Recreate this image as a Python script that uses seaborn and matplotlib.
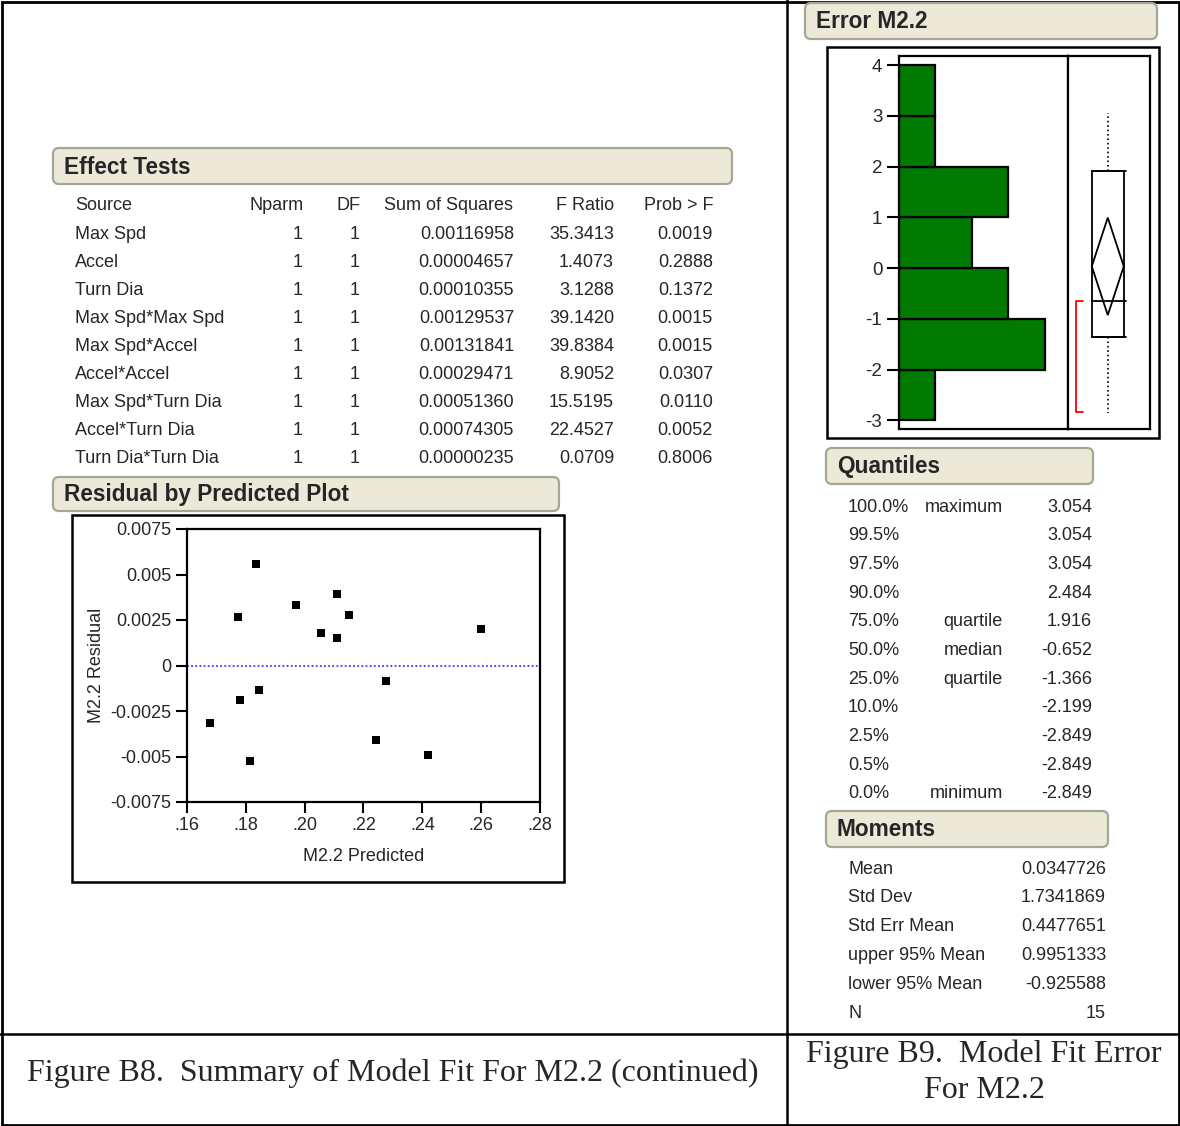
import numpy as np
import pandas as pd
import matplotlib
matplotlib.use('Agg')
from matplotlib import pyplot as plt
from matplotlib.patches import Rectangle, FancyBboxPatch, Polygon
import seaborn as sns

# ---- data ----
# Effect Tests table
sources = ['Max Spd', 'Accel', 'Turn Dia', 'Max Spd*Max Spd', 'Max Spd*Accel',
           'Accel*Accel', 'Max Spd*Turn Dia', 'Accel*Turn Dia', 'Turn Dia*Turn Dia']
nparm = [1, 1, 1, 1, 1, 1, 1, 1, 1]
dfs = [1, 1, 1, 1, 1, 1, 1, 1, 1]
sum_sq = ['0.00116958', '0.00004657', '0.00010355', '0.00129537', '0.00131841',
          '0.00029471', '0.00051360', '0.00074305', '0.00000235']
f_ratio = ['35.3413', '1.4073', '3.1288', '39.1420', '39.8384',
           '8.9052', '15.5195', '22.4527', '0.0709']
prob_f = ['0.0019', '0.2888', '0.1372', '0.0015', '0.0015',
          '0.0307', '0.0110', '0.0052', '0.8006']

# Residual by predicted
predicted = [0.1834, 0.1775, 0.1972, 0.2109, 0.2151, 0.2056, 0.2109, 0.2600,
             0.2277, 0.1846, 0.1780, 0.1679, 0.2241, 0.2420, 0.1815]
residual = [0.00557, 0.00266, 0.00334, 0.00392, 0.00275, 0.00178, 0.00150, 0.00200,
            -0.00083, -0.00132, -0.00189, -0.00314, -0.00411, -0.00490, -0.00526]

# Error M2.2 histogram (bin centres and counts)
bin_edges = [-3, -2, -1, 0, 1, 2, 3, 4]
bin_centers = [-2.5, -1.5, -0.5, 0.5, 1.5, 2.5, 3.5]
bin_counts = [1, 4, 3, 2, 3, 1, 1]

# Quantiles
q_pct = ['100.0%', '99.5%', '97.5%', '90.0%', '75.0%', '50.0%', '25.0%',
         '10.0%', '2.5%', '0.5%', '0.0%']
q_name = ['maximum', '', '', '', 'quartile', 'median', 'quartile', '', '', '', 'minimum']
q_val = [3.054, 3.054, 3.054, 2.484, 1.916, -0.652, -1.366, -2.199, -2.849, -2.849, -2.849]

# Moments
m_name = ['Mean', 'Std Dev', 'Std Err Mean', 'upper 95% Mean', 'lower 95% Mean', 'N']
m_val = ['0.0347726', '1.7341869', '0.4477651', '0.9951333', '-0.925588', '15']
mean_ci = [0.0347726, 0.9951333, -0.925588]
shortest_half = [-0.64, -2.84]

# ---- layout helpers (pixel coords) ----
W, H = 1180, 1126
sns.set_style('white')
plt.rcParams['font.family'] = ['Liberation Sans', 'DejaVu Sans']
plt.rcParams['axes.unicode_minus'] = False

fig = plt.figure(figsize=(W / 100, H / 100), dpi=100)


def px_rect(x0, y0, x1, y1):
    return [x0 / W, 1 - y1 / H, (x1 - x0) / W, (y1 - y0) / H]


bg = fig.add_axes([0, 0, 1, 1], zorder=0)
bg.set_xlim(0, W)
bg.set_ylim(H, 0)
bg.axis('off')

# page frame
bg.add_patch(Rectangle((1.5, 1.5), W - 3, H - 3, fill=False, lw=2, ec='black'))
bg.plot([787, 787], [0, H], color='black', lw=1.8)
bg.plot([0, W], [1034, 1034], color='black', lw=1.8)

FS = 13


def header(x0, y0, x1, y1, text):
    bg.add_patch(FancyBboxPatch((x0, y0), x1 - x0, y1 - y0,
                                boxstyle='round,pad=0,rounding_size=6',
                                fc='#ece9d8', ec='#a6a696', lw=1.6))
    bg.text(x0 + 11, (y0 + y1) / 2 + 1, text, fontsize=16.3, fontweight='bold',
            va='center', ha='left')


# Effect Tests
header(53, 148, 732, 184, 'Effect Tests')
row0, dy = 206, 28.1
bg.text(75, row0, 'Source', fontsize=FS, va='center')
bg.text(304, row0, 'Nparm', fontsize=FS, va='center', ha='right')
bg.text(361, row0, 'DF', fontsize=FS, va='center', ha='right')
bg.text(513, row0, 'Sum of Squares', fontsize=FS, va='center', ha='right')
bg.text(614, row0, 'F Ratio', fontsize=FS, va='center', ha='right')
bg.text(713, row0, 'Prob > F', fontsize=FS, va='center', ha='right')
for i in range(len(sources)):
    y = row0 + dy * (i + 1)
    bg.text(75, y, sources[i], fontsize=FS, va='center')
    bg.text(303, y, str(nparm[i]), fontsize=FS, va='center', ha='right')
    bg.text(360, y, str(dfs[i]), fontsize=FS, va='center', ha='right')
    bg.text(514, y, sum_sq[i], fontsize=FS, va='center', ha='right')
    bg.text(614, y, f_ratio[i], fontsize=FS, va='center', ha='right')
    bg.text(713, y, prob_f[i], fontsize=FS, va='center', ha='right')

# Residual by Predicted Plot
header(53, 477, 559, 511, 'Residual by Predicted Plot')
bg.add_patch(Rectangle((72, 515), 492, 367, fill=False, lw=1.8, ec='black'))

ax = fig.add_axes(px_rect(187, 529, 540, 802), zorder=2)
df_res = pd.DataFrame({'pred': predicted, 'resid': residual})
sns.scatterplot(data=df_res, x='pred', y='resid', marker='s', s=28,
                color='black', edgecolor='black', linewidth=0, ax=ax)
ax.axhline(0, color='#3a3aff', lw=1.3, ls=(0, (1, 1.3)))
ax.set_xlim(0.16, 0.28)
ax.set_ylim(-0.0075, 0.0075)
ax.set_xticks([0.16, 0.18, 0.20, 0.22, 0.24, 0.26, 0.28])
ax.set_xticklabels(['.16', '.18', '.20', '.22', '.24', '.26', '.28'])
ax.set_yticks([0.0075, 0.005, 0.0025, 0, -0.0025, -0.005, -0.0075])
ax.set_yticklabels(['0.0075', '0.005', '0.0025', '0', '-0.0025', '-0.005', '-0.0075'])
ax.tick_params(direction='out', length=8, width=1.5, labelsize=FS, color='black', pad=3,
               left=True, bottom=True)
ax.set_xlabel('M2.2 Predicted', fontsize=FS, labelpad=10)
ax.set_ylabel('M2.2 Residual', fontsize=FS, labelpad=4)
for sp in ax.spines.values():
    sp.set_color('black')
    sp.set_linewidth(1.6)

# Error M2.2
header(805, 3, 1157, 39, 'Error M2.2')
bg.add_patch(Rectangle((827, 47), 332, 391, fill=False, lw=1.8, ec='black'))

ylo, yhi = -3.17, 4.18
hx = fig.add_axes(px_rect(899, 56, 1068, 429), zorder=2)
sns.histplot(y=bin_centers, weights=bin_counts, bins=bin_edges, color='#007a00',
             alpha=1, edgecolor='black', linewidth=1.6, ax=hx)
hx.set_xlim(0, 4.64)
hx.set_ylim(ylo, yhi)
hx.set_xticks([])
hx.set_yticks(range(-3, 5))
hx.set_xlabel('')
hx.set_ylabel('')
hx.tick_params(axis='y', direction='out', length=9, width=1.5, labelsize=FS + 0.5,
               color='black', left=True, pad=3)
for sp in hx.spines.values():
    sp.set_color('black')
    sp.set_linewidth(1.6)

bx = fig.add_axes(px_rect(1068, 56, 1150, 429), zorder=2)
bx.set_xlim(0, 1)
bx.set_ylim(ylo, yhi)
bx.set_xticks([])
bx.set_yticks([])
for sp in bx.spines.values():
    sp.set_color('black')
    sp.set_linewidth(1.6)
q_hi, q_med, q_lo = q_val[4], q_val[5], q_val[6]
bl, br, bc = 0.29, 0.68, 0.485
bx.add_patch(Rectangle((bl, q_lo), br - bl, q_hi - q_lo, fill=False, ec='black', lw=1.3))
bx.plot([bl, 0.71], [q_med, q_med], color='black', lw=1.3)
bx.plot([bl, 0.71], [q_hi, q_hi], color='black', lw=1.3)
bx.plot([bl, 0.71], [q_lo, q_lo], color='black', lw=1.3)
bx.plot([bc, bc], [q_hi, q_val[0]], color='black', lw=1.2, ls=':')
bx.plot([bc, bc], [q_lo, q_val[-1]], color='black', lw=1.2, ls=':')
bx.add_patch(Polygon([(bl, mean_ci[0]), (bc, mean_ci[1]), (br, mean_ci[0]), (bc, mean_ci[2])],
                     closed=True, fill=False, ec='black', lw=1.3))
bx.plot([0.185, 0.097, 0.097, 0.185], [shortest_half[0], shortest_half[0],
                                       shortest_half[1], shortest_half[1]],
        color='red', lw=1.3)

# Quantiles
header(826, 448, 1093, 484, 'Quantiles')
qy0, qdy = 507, 28.7
for i in range(len(q_pct)):
    y = qy0 + qdy * i
    bg.text(848, y, q_pct[i], fontsize=FS, va='center')
    if q_name[i]:
        bg.text(1003, y, q_name[i], fontsize=FS, va='center', ha='right')
    bg.text(1092, y, '{:.3f}'.format(q_val[i]), fontsize=FS, va='center', ha='right')

# Moments
header(826, 811, 1108, 847, 'Moments')
my0, mdy = 869, 28.8
for i in range(len(m_name)):
    y = my0 + mdy * i
    bg.text(848, y, m_name[i], fontsize=FS, va='center')
    bg.text(1106, y, m_val[i], fontsize=FS, va='center', ha='right')

# captions
cap = dict(fontsize=23, family=['Liberation Serif', 'DejaVu Serif'], va='center', ha='center')
bg.text(393, 1073, 'Figure B8.  Summary of Model Fit For M2.2 (continued)', **cap)
bg.text(984, 1054, 'Figure B9.  Model Fit Error', **cap)
bg.text(984, 1090, 'For M2.2', **cap)

fig.savefig('out.png', dpi=100)
